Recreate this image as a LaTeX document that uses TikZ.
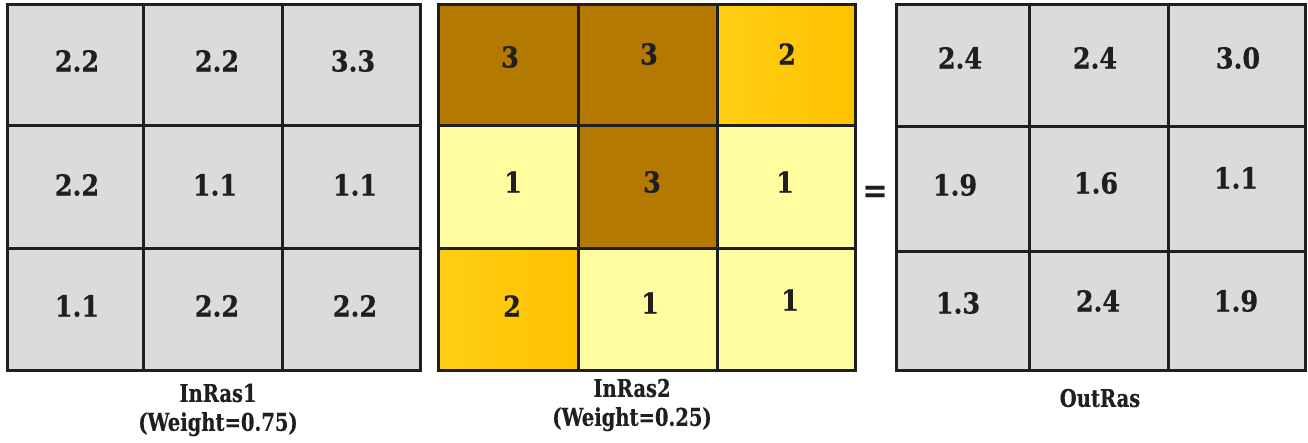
\documentclass[tikz,border=0pt]{standalone}
\usepackage{fontspec}
\setmainfont{DejaVu Serif}
\newfontfamily\numfont{DejaVu Serif}[FakeStretch=0.88, FakeBold=0.6]
\newfontfamily\labfont{DejaVu Serif}[FakeStretch=0.8, FakeBold=0.3]
\begin{document}
\begin{tikzpicture}[x=1bp,y=-1bp,
  gridline/.style={line width=3bp, draw=black!88},
  val/.style={font=\numfont\fontsize{29}{29}\selectfont\bfseries, text=black!88, inner sep=0pt},
  caption/.style={font=\labfont\fontsize{24.5}{29}\selectfont\bfseries, text=black!88, align=center, inner sep=0pt},
  greycell/.style={fill=black!14},
  darkcell/.style={fill=rasbrown},
  midcell/.style={left color=rasorangeL, right color=rasorangeR},
  lightcell/.style={fill=rasyellow}]
\definecolor{rasbrown}{RGB}{180,121,0}
\definecolor{rasorangeL}{RGB}{255,206,20}
\definecolor{rasorangeR}{RGB}{255,194,0}
\definecolor{rasyellow}{RGB}{255,253,160}
\useasboundingbox (0,0) rectangle (1308,443);

% ---- InRas1 ----
\fill[greycell] (7,5) rectangle (420,370);
\draw[gridline] (7,5) rectangle (420,370);
\draw[gridline] (143,5) -- (143,370) (282,5) -- (282,370)
                (7,126) -- (420,126) (7,249) -- (420,249);
\node[val] (a11) at (77,61) {2.2};
\node[val] (a12) at (217,61) {2.2};
\node[val] (a13) at (353,61) {3.3};
\node[val] (a21) at (77,185) {2.2};
\node[val] (a22) at (215,185) {1.1};
\node[val] (a23) at (355,185) {1.1};
\node[val] (a31) at (77,306) {1.1};
\node[val] (a32) at (217,306) {2.2};
\node[val] (a33) at (355,306) {2.2};

% ---- InRas2 ----
\fill[darkcell] (438,5) rectangle (578,126);
\fill[darkcell] (578,5) rectangle (717,126);
\shade[midcell] (717,5) rectangle (855,126);
\fill[lightcell] (438,126) rectangle (578,249);
\fill[darkcell] (578,126) rectangle (717,249);
\fill[lightcell] (717,126) rectangle (855,249);
\shade[midcell] (438,249) rectangle (578,370);
\fill[lightcell] (578,249) rectangle (717,370);
\fill[lightcell] (717,249) rectangle (855,370);
\draw[gridline] (438,5) rectangle (855,370);
\draw[gridline] (578,5) -- (578,370) (717,5) -- (717,370)
                (438,126) -- (855,126) (438,249) -- (855,249);
\node[val] (b11) at (510,57) {3};
\node[val] (b12) at (649,54) {3};
\node[val] (b13) at (787,54) {2};
\node[val] (b21) at (513,182) {1};
\node[val] (b22) at (652,182) {3};
\node[val] (b23) at (785,182) {1};
\node[val] (b31) at (512,306) {2};
\node[val] (b32) at (650,303) {1};
\node[val] (b33) at (790,300) {1};

% ---- equals sign ----
\node[val, font=\numfont\fontsize{34}{34}\selectfont\bfseries] (eq) at (875,194) {=};

% ---- OutRas ----
\fill[greycell] (896,5) rectangle (1305,370);
\draw[gridline] (896,5) rectangle (1305,370);
\draw[gridline] (1029,5) -- (1029,370) (1168,5) -- (1168,370)
                (896,127) -- (1305,127) (896,252) -- (1305,252);
\node[val] (c11) at (960,58) {2.4};
\node[val] (c12) at (1095,58) {2.4};
\node[val] (c13) at (1238,58) {3.0};
\node[val] (c21) at (955,185) {1.9};
\node[val] (c22) at (1096,183) {1.6};
\node[val] (c23) at (1236,178) {1.1};
\node[val] (c31) at (958,303) {1.3};
\node[val] (c32) at (1098,301) {2.4};
\node[val] (c33) at (1236,301) {1.9};

% ---- captions ----
\node[caption] (l1) at (218,410) {InRas1\\(Weight=0.75)};
\node[caption] (l2) at (632,405) {InRas2\\(Weight=0.25)};
\node[caption] (l3) at (1100,398) {OutRas};
\end{tikzpicture}
\end{document}
